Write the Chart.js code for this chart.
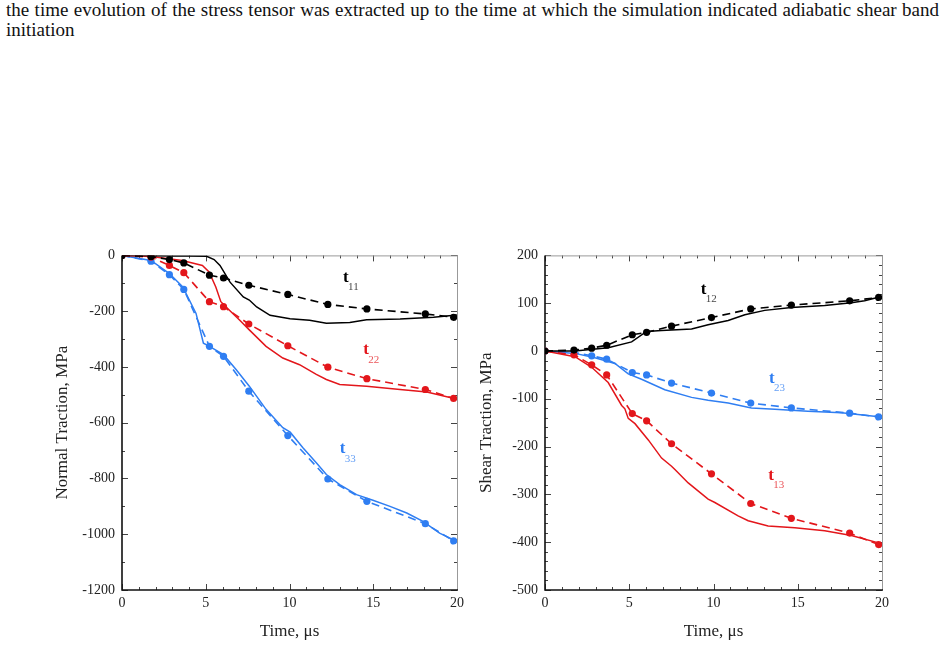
<!DOCTYPE html>
<html><head><meta charset="utf-8">
<script src="https://cdn.jsdelivr.net/npm/chart.js@4"></script>
<style>
body{margin:0;background:#fff;width:945px;height:649px;overflow:hidden;position:relative;}
#txt{position:absolute;left:6px;top:0px;width:933px;font-family:'Liberation Serif','Times New Roman',serif;font-size:19px;line-height:20px;text-align:justify;color:#111;}
.cw{position:absolute;top:240px;height:409px;}
</style></head><body>
<div id="txt">the time evolution of the stress tensor was extracted up to the time at which the simulation indicated adiabatic shear band initiation</div>
<div class="cw" style="left:0;width:472px"><canvas id="c1" width="472" height="409"></canvas></div>
<div class="cw" style="left:472px;width:473px"><canvas id="c2" width="473" height="409"></canvas></div>
<script>
// ---- Left chart: normal tractions ----
const ptTimesN = [0,1.73,2.83,3.69,5.22,6.06,7.57,9.90,12.29,14.62,18.11,19.80];
const t11Pts = [0,-4,-15,-27,-71,-81,-107,-140,-176,-192,-210,-222];
const t22Pts = [0,-6,-36,-62,-166,-184,-246,-324,-401,-442,-481,-513];
const t33Pts = [0,-21,-69,-122,-326,-362,-487,-646,-802,-882,-962,-1024];

const t11SimT = [0,1,2,3,4,5.05,5.5,5.85,6.45,7.24,7.6,8.04,8.84,10.03,11.2,12.2,13.6,14.6,16.6,18.6,20];
const t11Sim  = [0,0,-1,-2,-2,-3,-15,-36,-96,-149,-160,-185,-215,-227,-233,-243,-241,-231,-228,-222,-214];
const t22SimT = [0,1.73,3.6,4.8,5.2,5.6,5.9,6.4,7.0,7.6,8.6,9.6,10.6,11.6,12.2,13.0,14.6,16.6,18.2,19.2,19.9];
const t22Sim  = [0,-4,-18,-36,-59,-113,-166,-196,-231,-267,-326,-368,-392,-427,-445,-463,-469,-481,-490,-504,-514];
const t33SimT = [0,1.73,2.83,3.63,4.42,4.86,5.22,6.06,6.81,7.6,8.6,9.6,10.04,10.8,11.6,12.2,13.0,14.0,14.98,16.0,17.0,17.97,18.96,19.86];
const t33Sim  = [0,-18,-65,-113,-208,-315,-326,-356,-409,-469,-552,-618,-634,-690,-744,-786,-822,-858,-878,-900,-924,-954,-996,-1022];

// ---- Right chart: shear tractions ----
const ptTimesS = [0,1.72,2.77,3.66,5.18,6.03,7.51,9.88,12.21,14.62,18.08,19.80];
const t12Pts = [0,2,6,12,34,39,52,70,88,96,105,112];
const t23Pts = [0,-3,-10,-17,-45,-50,-67,-88,-109,-119,-130,-138];
const t13Pts = [0,-8,-29,-50,-131,-146,-194,-257,-319,-350,-381,-405];

const t12SimT = [0,1.78,3.75,5.14,6.03,6.92,8.7,9.68,10.87,11.86,13.04,14.62,16.6,18.18,18.97,19.96];
const t12Sim  = [0,0,7,19,41,43,46,55,64,76,85,91,95,101,105,114];
const t23SimT = [0,1.78,2.96,4.15,4.94,5.73,7.11,8.7,9.68,10.87,12.25,13.64,15.6,17.6,19.96];
const t23Sim  = [0,-5,-14,-26,-48,-59,-81,-97,-103,-109,-119,-122,-126,-129,-138];
const t13SimT = [0,1.78,2.77,3.75,4.55,4.74,4.94,5.34,6.13,6.92,7.51,7.71,8.5,9.68,10.08,11.46,12.06,13.24,14.82,16.6,18.18,19.96];
const t13Sim  = [0,-12,-34,-66,-114,-121,-141,-152,-186,-224,-241,-248,-276,-310,-317,-345,-355,-366,-370,-376,-386,-403];

const xTicks = [0,5,10,15,20];

const BLACK='#000000', RED='#e3161b', BLUE='#2f7ef2';
const FONT='"Liberation Serif", "Times New Roman", serif';

function pairs(xs, ys){ return xs.map((x,i)=>({x:x,y:ys[i]})); }
function simDs(xs, ys, c){ return {data:pairs(xs,ys), borderColor:c, backgroundColor:c, borderWidth:1.5, pointRadius:0, showLine:true, tension:0}; }
function ptDs(xs, ys, c){ return {data:pairs(xs,ys), borderColor:c, backgroundColor:c, borderWidth:1.6, borderDash:[8,5], pointRadius:3.6, pointHoverRadius:3.6, pointBorderWidth:0, showLine:true, tension:0}; }

const framePlugin = {
  id:'frame',
  beforeDatasetsDraw(chart, args, o){
    const {ctx, chartArea:a, scales:{x,y}} = chart;
    ctx.save();
    ctx.strokeStyle='#444'; ctx.lineWidth=1;
    ctx.beginPath();
    for(let v=0; v<=20+1e-9; v+=1){
      const px=Math.round(x.getPixelForValue(v))+0.5;
      const L = (v%5===0)?6:3;
      ctx.moveTo(px,a.bottom); ctx.lineTo(px,a.bottom-L);
      ctx.moveTo(px,a.top); ctx.lineTo(px,a.top+L);
    }
    for(let v=o.ymin; v<=o.ymax+1e-9; v+=o.minor){
      const py=Math.round(y.getPixelForValue(v))+0.5;
      const L = (Math.round(v)%o.major===0)?6:3;
      ctx.moveTo(a.left,py); ctx.lineTo(a.left+L,py);
      ctx.moveTo(a.right,py); ctx.lineTo(a.right-L,py);
    }
    ctx.stroke();
    ctx.strokeStyle='#999'; ctx.lineWidth=1;
    ctx.beginPath();
    ctx.moveTo(a.left,a.top+0.5); ctx.lineTo(a.right+0.5,a.top+0.5); ctx.lineTo(a.right+0.5,a.bottom);
    ctx.stroke();
    ctx.strokeStyle='#111'; ctx.lineWidth=1.6;
    ctx.beginPath();
    ctx.moveTo(a.left,a.top); ctx.lineTo(a.left,a.bottom); ctx.lineTo(a.right+1,a.bottom);
    ctx.stroke();
    ctx.restore();
  },
  afterDatasetsDraw(chart, args, o){
    const {ctx, scales:{x,y}} = chart;
    ctx.save();
    o.labels.forEach(l=>{
      const px=x.getPixelForValue(l.x), py=y.getPixelForValue(l.y);
      ctx.fillStyle=l.c; ctx.globalAlpha=1;
      ctx.font='bold 17px '+FONT; ctx.textBaseline='middle'; ctx.textAlign='left';
      ctx.fillText('t', px, py);
      ctx.globalAlpha=0.75;
      ctx.font='11px '+FONT;
      ctx.fillText(l.s, px+5, py+10);
    });
    ctx.restore();
  }
};

function makeChart(id, datasets, ymin, ymax, ystep, minor, yTitle, labels, padL, yW, padR){
  return new Chart(document.getElementById(id), {
    type:'scatter',
    data:{datasets:datasets},
    options:{
      responsive:false, animation:false,
      layout:{padding:{left:padL, right:padR, top:15, bottom:5}},
      plugins:{legend:{display:false}, tooltip:{enabled:false},
        frame:{ymin:ymin, ymax:ymax, minor:minor, major:ystep, labels:labels}},
      scales:{
        x:{type:'linear', min:0, max:20,
          afterBuildTicks(s){ s.ticks = xTicks.map(v=>({value:v})); },
          afterFit(s){ s.height=54; },
          grid:{display:false, drawTicks:false}, border:{display:false},
          ticks:{font:{family:FONT,size:14}, color:'#222', padding:5, maxRotation:0, callback:v=>String(v)},
          title:{display:true, text:'Time, μs', font:{family:FONT,size:17}, color:'#222', padding:{top:4,bottom:2}}},
        y:{type:'linear', min:ymin, max:ymax,
          ticks:{stepSize:ystep, font:{family:FONT,size:14}, color:'#222', padding:7, callback:v=>String(v)},
          afterFit(s){ s.width=yW; },
          grid:{display:false, drawTicks:false}, border:{display:false},
          title:{display:true, text:yTitle, font:{family:FONT,size:17}, color:'#222', padding:{top:2,bottom:4}}}
      }
    },
    plugins:[framePlugin]
  });
}

makeChart('c1', [
  ptDs(ptTimesN, t11Pts, BLACK), simDs(t11SimT, t11Sim, BLACK),
  ptDs(ptTimesN, t22Pts, RED),   simDs(t22SimT, t22Sim, RED),
  ptDs(ptTimesN, t33Pts, BLUE),  simDs(t33SimT, t33Sim, BLUE)
], -1200, 0, 200, 100, 'Normal Traction, MPa',
 [{x:13.2,y:-78,s:'11',c:BLACK},{x:14.4,y:-338,s:'22',c:RED},{x:13.0,y:-693,s:'33',c:BLUE}],
 50, 72, 15);

makeChart('c2', [
  ptDs(ptTimesS, t12Pts, BLACK), simDs(t12SimT, t12Sim, BLACK),
  ptDs(ptTimesS, t13Pts, RED),   simDs(t13SimT, t13Sim, RED),
  ptDs(ptTimesS, t23Pts, BLUE),  simDs(t23SimT, t23Sim, BLUE)
], -500, 200, 100, 20, 'Shear Traction, MPa',
 [{x:9.25,y:129,s:'12',c:BLACK},{x:13.3,y:-57,s:'23',c:BLUE},{x:13.25,y:-260,s:'13',c:RED}],
 2, 71, 63);
</script>
</body></html>
